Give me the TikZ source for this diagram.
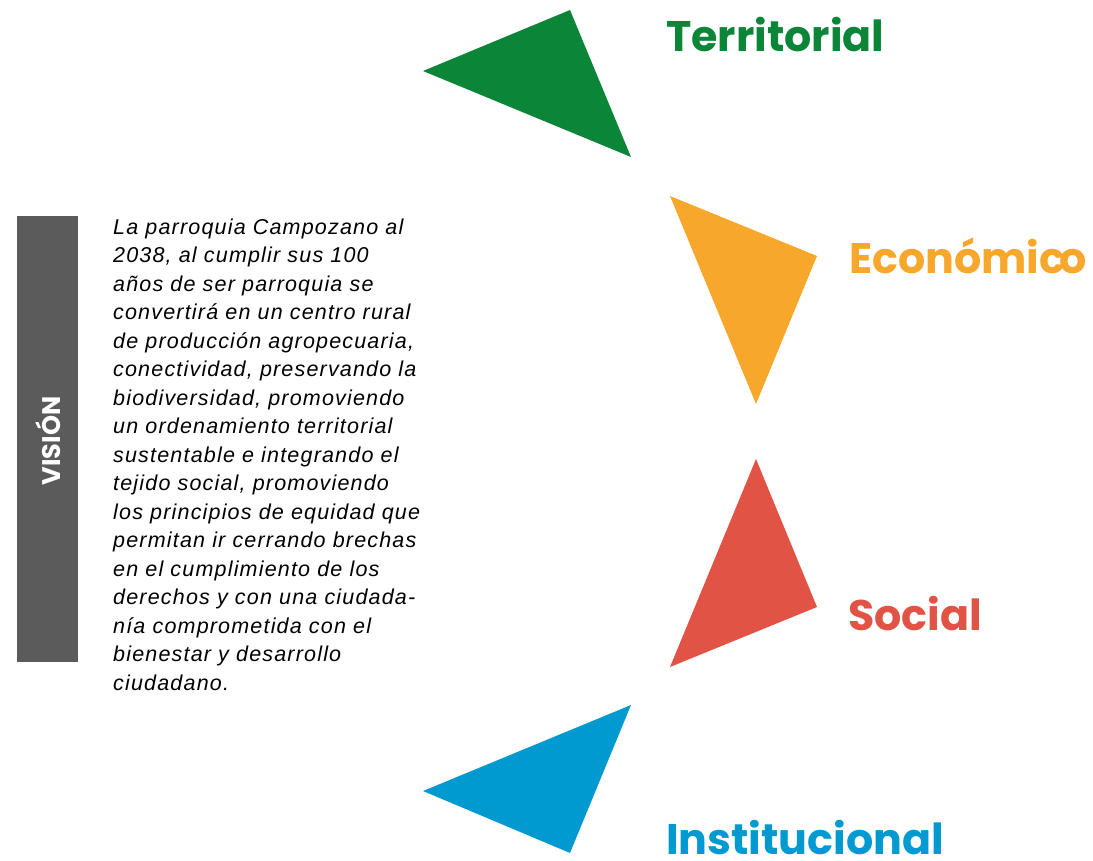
\documentclass[tikz,border=0pt]{standalone}
\usepackage{fontspec}
\setmainfont{Liberation Sans}
\newfontfamily\ejefont{Poppins}
\newfontfamily\cuerpofont[LetterSpace=5.5]{Liberation Sans}
\definecolor{vis_green}{RGB}{11, 133, 55}
\definecolor{vis_orange}{RGB}{247, 167, 43}
\definecolor{vis_red}{RGB}{224, 83, 69}
\definecolor{vis_blue}{RGB}{0, 154, 208}
\definecolor{vis_gray}{RGB}{91, 91, 91}
\tikzstyle{eje}=[anchor=base west,inner sep=0pt,
  font=\ejefont\bfseries\fontsize{42.8}{50}\selectfont]
\tikzstyle{cuerpo}=[anchor=north west,inner sep=0pt,align=left,
  font=\cuerpofont\itshape\fontsize{21.5}{28.5}\selectfont]

\begin{document}
\begin{tikzpicture}[x=1pt,y=-1pt]
    \useasboundingbox (0,0) rectangle (1093,861);
    % barra lateral
    \node [fill=vis_gray,inner sep=0pt,minimum width=61pt,minimum height=446pt] (barra) at (47.5, 439) {};
    \node [rotate=90,text=white,font=\ejefont\bfseries\fontsize{25.5}{30}\selectfont] (vision) at (48, 441) {VISIÓN};
    \node [style=cuerpo] (texto) at (113, 218.5) {La parroquia Campozano al\\
      2038, al cumplir sus 100\\
      años de ser parroquia se\\
      convertirá en un centro rural\\
      de producción agropecuaria,\\
      conectividad, preservando la\\
      biodiversidad, promoviendo\\
      un ordenamiento territorial\\
      sustentable e integrando el\\
      tejido social, promoviendo\\
      los principios de equidad que\\
      permitan ir cerrando brechas\\
      en el cumplimiento de los\\
      derechos y con una ciudada-\\
      nía comprometida con el\\
      bienestar y desarrollo\\
      ciudadano.};
    % triangulos
    \coordinate (t1a) at (423, 71);
    \coordinate (t1b) at (570, 10);
    \coordinate (t1c) at (631, 157);
    \coordinate (t2a) at (670, 196);
    \coordinate (t2b) at (817, 256);
    \coordinate (t2c) at (756, 404);
    \coordinate (t3a) at (756, 459);
    \coordinate (t3b) at (817, 607);
    \coordinate (t3c) at (670, 667);
    \coordinate (t4a) at (423, 791);
    \coordinate (t4b) at (631, 705);
    \coordinate (t4c) at (570, 853);
    \fill [vis_green] (t1a) -- (t1b) -- (t1c) -- cycle;
    \fill [vis_orange] (t2a) -- (t2b) -- (t2c) -- cycle;
    \fill [vis_red] (t3a) -- (t3b) -- (t3c) -- cycle;
    \fill [vis_blue] (t4a) -- (t4b) -- (t4c) -- cycle;
    % ejes
    \node [style=eje,text=vis_green] (terr) at (666, 52) {Territorial};
    \node [style=eje,text=vis_orange] (econ) at (849, 274) {Económic\kern-0.15em o};
    \node [style=eje,text=vis_red] (soc) at (848, 630) {Social};
    \node [style=eje,text=vis_blue] (inst) at (666, 854) {Institucional};
  \end{tikzpicture}
\end{document}
